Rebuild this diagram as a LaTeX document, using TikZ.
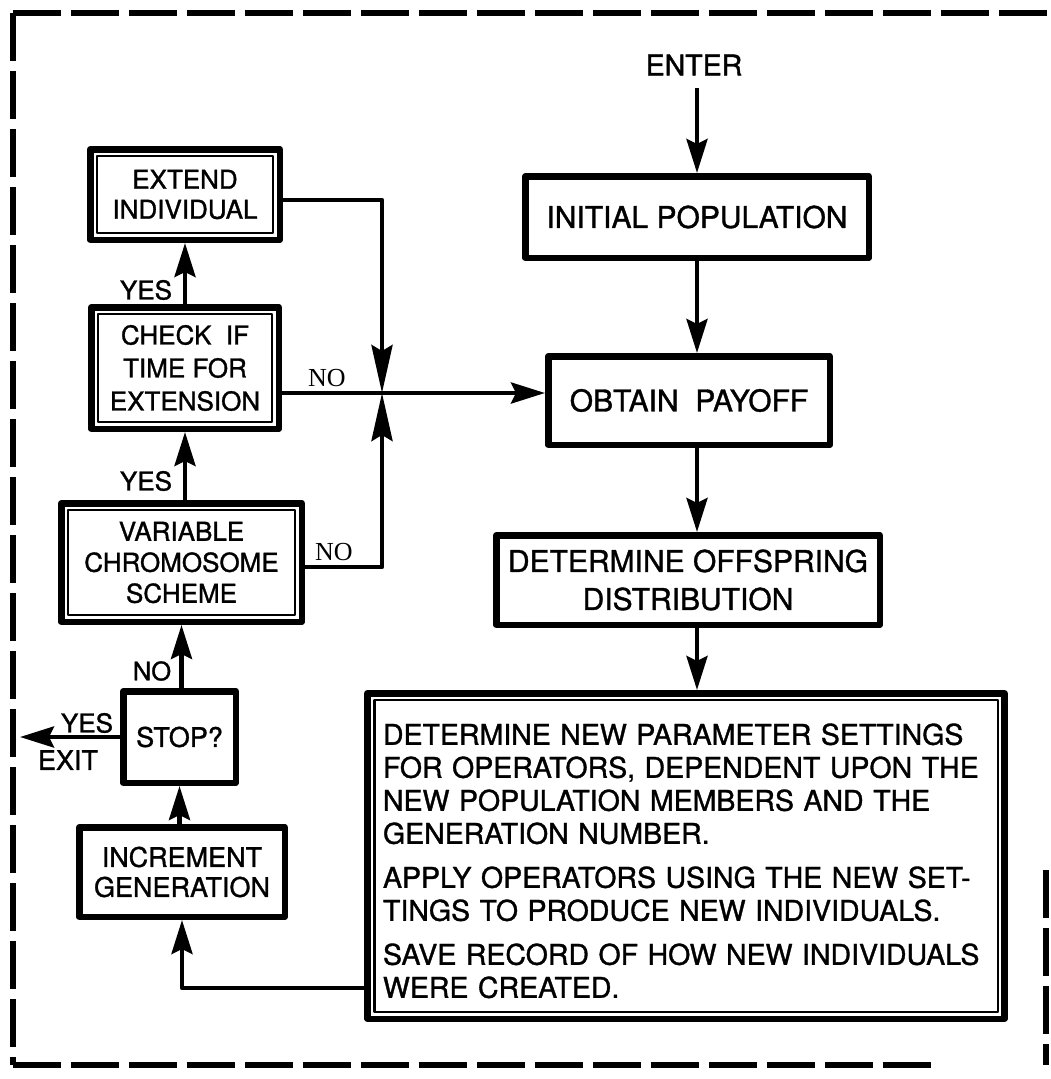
\documentclass[tikz,border=0pt]{standalone}
\usepackage{fontspec}
\setmainfont{TeX Gyre Heros}[UprightFeatures={FakeBold=1.2}]
\newfontfamily\labelserif{Liberation Serif}
\usetikzlibrary{arrows.meta}

\begin{document}
\begin{tikzpicture}[x=1pt,y=-1pt,
  every node/.style={inner sep=0pt},
  box/.style={draw, line width=6.5pt, align=center, line join=round},
  bigtext/.style={font=\fontsize{30}{38}\selectfont},
  lefttext/.style={font=\fontsize{26}{31}\selectfont},
  bodytext/.style={font=\fontsize{28.5}{33}\selectfont},
  lbl/.style={font=\fontsize{26}{30}\selectfont},
  nolbl/.style={font=\labelserif\fontsize{26}{30}\selectfont},
  innerline/.style={line width=2.5pt, line join=round},
  link/.style={line width=4.5pt, line join=round},
  flow/.style={link, -{Stealth[length=34pt,width=21pt,inset=5pt]}},
  longflow/.style={link, -{Stealth[length=48pt,width=21pt,inset=6pt]}},
  frame/.style={line width=6pt, dash pattern=on 48pt off 10pt},
]
\fill[white] (0,0) rectangle (1050,1079);
\useasboundingbox (0,0) rectangle (1050,1079);

% dashed enclosure
\draw[frame] (13,13) -- (1050,13);
\draw[frame] (13,13) -- (13,1065);
\draw[frame] (13,1065) -- (935,1065);
\draw[frame] (1046,870) -- (1046,1065);

% main column
\node[lbl, font=\fontsize{28.5}{30}\selectfont] (enter) at (694,65) {ENTER};
\node[box, bigtext, minimum width=343.5pt, minimum height=81.5pt] (init) at (697,217) {INITIAL POPULATION};
\node[box, bigtext, minimum width=281.5pt, minimum height=88.5pt] (obt) at (689,400.5) {OBTAIN\ \ PAYOFF};
\node[box, bigtext, minimum width=383.5pt, minimum height=89.5pt] (off) at (688,580) {DETERMINE OFFSPRING\\DISTRIBUTION};
\node[box, bodytext, align=left, text width=606pt, inner xsep=15.5pt,
      minimum width=635.5pt, minimum height=325.5pt] (big) at (686,856)
  {\rule{0pt}{31pt}DETERMINE NEW PARAMETER SETTINGS\\
   FOR OPERATORS, DEPENDENT UPON THE\\
   NEW POPULATION MEMBERS AND THE\\
   GENERATION NUMBER.\\[11pt]
   APPLY OPERATORS USING THE NEW SET-\\
   TINGS TO PRODUCE NEW INDIVIDUALS.\\[11pt]
   SAVE RECORD OF HOW NEW INDIVIDUALS\\
   WERE CREATED.};

% left column
\node[box, lefttext, minimum width=189.5pt, minimum height=90.5pt, font=\fontsize{26}{30}\selectfont] (ext) at (185,194.5) {EXTEND\\INDIVIDUAL};
\node[box, lefttext, minimum width=187.5pt, minimum height=121.5pt, font=\fontsize{26}{33}\selectfont] (chk) at (185,368) {CHECK\ \ IF\\TIME FOR\\EXTENSION};
\node[box, lefttext, minimum width=240.5pt, minimum height=118.5pt] (var) at (181.5,562.5) {VARIABLE\\CHROMOSOME\\SCHEME};
\node[box, lefttext, minimum width=112.5pt, minimum height=91.5pt, font=\fontsize{27}{31}\selectfont] (stop) at (179.5,737) {STOP?};
\node[box, lefttext, minimum width=205.5pt, minimum height=89.5pt, font=\fontsize{27}{30}\selectfont] (inc) at (182,872) {INCREMENT\\GENERATION};

% inner lines of the double-framed boxes
\foreach \b in {ext,chk,var,big}
  \draw[innerline] ([shift={(10,10)}]\b.north west) rectangle ([shift={(-10,-10)}]\b.south east);

% connectors of the main column
\draw[flow] (enter.south -| init.north) ++(0,12) -- (init.north);
\draw[flow] (init.south) -- (init.south |- obt.north);
\draw[flow] (obt.south -| init.south) -- (init.south |- off.north);
\draw[flow] (off.south -| init.south) -- (init.south |- big.north);

% junction of the two return lines
\coordinate (j) at (382,393);
\draw[longflow] ([yshift=-5.5pt]ext.east) -| (j);
\draw[longflow] ([yshift=-4.5pt]var.east) -| (j);
\draw[flow] (chk.east |- j) -- (obt.west |- j);

% connectors of the left column
\draw[flow] (chk.north) -- (chk.north |- ext.south);
\draw[flow] (var.north -| chk.north) -- (chk.south);
\draw[flow] (stop.north -| var.north) -- (var.south);
\draw[flow] (inc.north -| stop.north) -- (stop.south);
\coordinate (exit) at (20,737);
\draw[flow] (stop.west) -- (exit);
\coordinate (ret) at (inc.south |- 0,988);
\draw[flow] (big.west |- ret) -- (ret) -- (inc.south);

% branch labels
\node[lbl] (yes1) at (146,290) {YES};
\node[lbl] (yes2) at (146,481) {YES};
\node[lbl, font=\fontsize{25.5}{30}\selectfont] (no3) at (152,671) {NO};
\node[lbl] (yes3) at (87,723) {YES};
\node[lbl, font=\fontsize{27}{30}\selectfont] (exitlbl) at (68,760) {EXIT};
\node[nolbl] (no1) at (327,378) {NO};
\node[nolbl] (no2) at (334,552) {NO};
\end{tikzpicture}
\end{document}
